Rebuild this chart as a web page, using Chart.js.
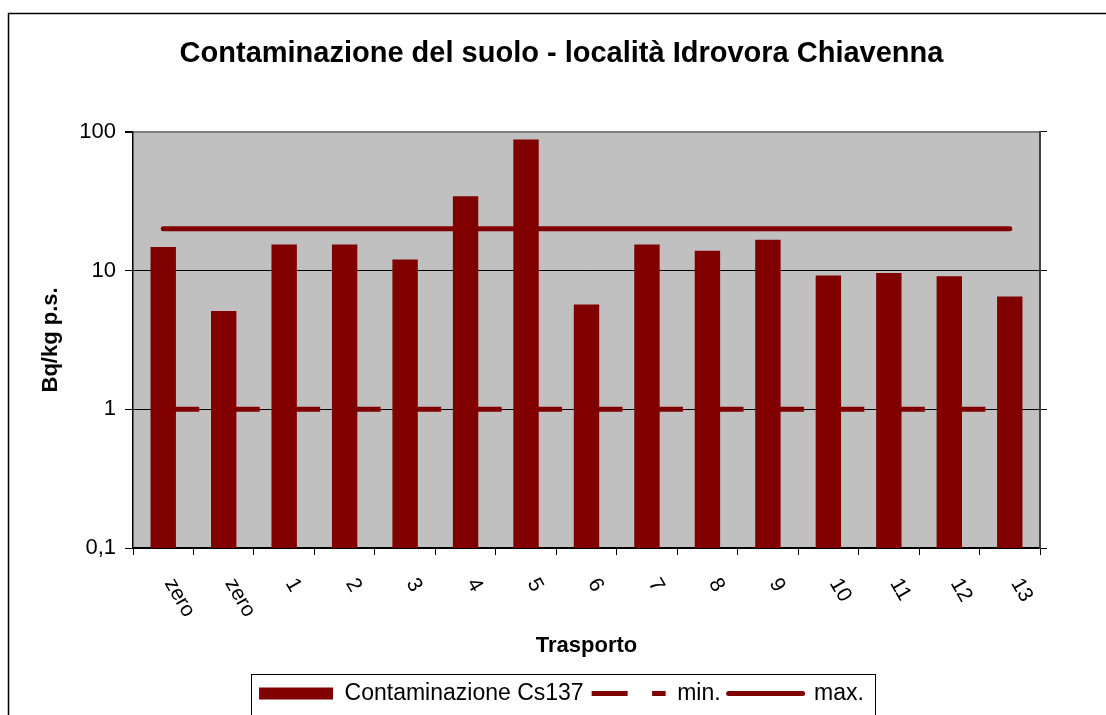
<!DOCTYPE html>
<html>
<head>
<meta charset="utf-8">
<script src="https://cdn.jsdelivr.net/npm/chart.js@4"></script>
<style>
  html, body { margin: 0; padding: 0; background: #fff; }
  #wrap { width: 1106px; height: 715px; position: relative; }
</style>
</head>
<body>
<div id="wrap"><canvas id="chart"></canvas></div>
<script>
// values (Bq/kg p.s., log scale)
const categories = ["zero", "zero", "1", "2", "3", "4", "5", "6", "7", "8", "9", "10", "11", "12", "13"];
const cs137 = [14.8, 5.1, 15.4, 15.4, 12.0, 34.3, 88.0, 5.7, 15.4, 13.9, 16.7, 9.2, 9.6, 9.1, 6.5];
const minValues = [1, 1, 1, 1, 1, 1, 1, 1, 1, 1, 1, 1, 1, 1, 1];
const maxValues = [20, 20, 20, 20, 20, 20, 20, 20, 20, 20, 20, 20, 20, 20, 20];
const yTicks = [0.1, 1, 10, 100];
const yTickLabels = ["0,1", "1", "10", "100"];

const darkRed = "#800000";
const minDash = [36, 24.47];

Chart.defaults.font.family = '"Liberation Sans", Arial, sans-serif';
Chart.defaults.color = "#000";

const frame = {
  id: "frame",
  beforeDraw: (chart) => {
    const { ctx, chartArea: a } = chart;
    ctx.save();
    ctx.fillStyle = "#c0c0c0";
    ctx.fillRect(a.left, a.top, a.right - a.left, a.bottom - a.top);
    // outer chart border
    ctx.strokeStyle = "#000";
    ctx.lineWidth = 1.5;
    ctx.beginPath();
    ctx.moveTo(8.5, 720);
    ctx.lineTo(8.5, 13.5);
    ctx.lineTo(1110, 13.5);
    ctx.stroke();
    ctx.restore();
  },
  afterDraw: (chart) => {
    const { ctx } = chart;
    const xs = chart.scales.x;
    ctx.save();
    // rotated category labels
    ctx.font = '21px "Liberation Sans", Arial, sans-serif';
    ctx.fillStyle = "#000";
    ctx.textAlign = "left";
    ctx.textBaseline = "middle";
    categories.forEach((c, i) => {
      ctx.save();
      ctx.translate(xs.getPixelForValue(i) + 6, xs.top + 32);
      ctx.rotate(Math.PI / 3);
      ctx.fillText(c, 0, 0);
      ctx.restore();
    });
    // legend frame
    const hb = chart.legend.legendHitBoxes;
    if (hb && hb.length) {
      const last = hb[hb.length - 1];
      const l = hb[0].left - 8;
      const r = last.left + last.width + 11;
      const t = chart.legend.top;
      ctx.strokeStyle = "#000";
      ctx.lineWidth = 1;
      ctx.strokeRect(Math.round(l) + 0.5, Math.round(t) + 0.5, Math.round(r - l), 60);
    }
    ctx.restore();
  }
};

new Chart(document.getElementById("chart"), {
  type: "bar",
  data: {
    labels: categories,
    datasets: [
      {
        type: "bar",
        label: "Contaminazione Cs137",
        data: cs137,
        backgroundColor: darkRed,
        borderWidth: 0,
        barPercentage: 0.42,
        categoryPercentage: 1,
        order: 2
      },
      {
        type: "line",
        label: "min.",
        data: minValues,
        borderColor: darkRed,
        borderWidth: 5,
        borderDash: minDash,
        pointRadius: 0,
        fill: false,
        order: 1
      },
      {
        type: "line",
        label: "max.",
        data: maxValues,
        borderColor: darkRed,
        borderWidth: 5,
        borderCapStyle: "round",
        pointRadius: 0,
        fill: false,
        order: 1
      }
    ]
  },
  options: {
    responsive: true,
    maintainAspectRatio: false,
    animation: false,
    layout: { padding: { left: 17, right: 0, top: 0, bottom: 0 } },
    plugins: {
      title: {
        display: true,
        text: "Contaminazione del suolo - località Idrovora Chiavenna",
        font: { size: 29, weight: "bold" },
        color: "#000",
        padding: { top: 37, bottom: 60 }
      },
      legend: {
        position: "bottom",
        labels: {
          usePointStyle: true,
          pointStyleWidth: 74,
          boxHeight: 12,
          padding: 8,
          font: { size: 23 },
          color: "#000",
          generateLabels: () => [
            { text: "Contaminazione Cs137", fillStyle: darkRed, strokeStyle: darkRed, lineWidth: 0, pointStyle: "rect", datasetIndex: 0 },
            { text: "min.", fillStyle: darkRed, strokeStyle: darkRed, lineWidth: 5, lineDash: minDash, pointStyle: "line", datasetIndex: 1 },
            { text: "max.", fillStyle: darkRed, strokeStyle: darkRed, lineWidth: 5, lineCap: "round", pointStyle: "line", datasetIndex: 2 }
          ]
        }
      },
      tooltip: { enabled: false }
    },
    scales: {
      x: {
        type: "category",
        offset: true,
        afterFit: (s) => { s.height = 126; },
        grid: { offset: true, drawOnChartArea: false, drawTicks: true, tickLength: 7, color: "#000", tickColor: "#000" },
        border: { color: "#000", width: 1.5 },
        ticks: { display: false },
        title: {
          display: true,
          text: "Trasporto",
          font: { size: 22, weight: "bold" },
          color: "#000",
          padding: { top: 0, bottom: 15 }
        }
      },
      y: {
        type: "logarithmic",
        position: "left",
        min: 0.1,
        max: 100,
        afterBuildTicks: (s) => { s.ticks = yTicks.map((v) => ({ value: v })); },
        afterFit: (s) => { s.width = 116; },
        ticks: {
          callback: (v, i) => yTickLabels[i],
          font: { size: 22 },
          color: "#000",
          padding: 9
        },
        grid: {
          color: (c) => (c.tick && c.tick.value === 100 ? "#808080" : "#000"),
          lineWidth: (c) => (c.tick && c.tick.value === 100 ? 2 : 1),
          tickColor: "#000",
          tickLength: 8
        },
        border: { color: "#000", width: 1.5 },
        title: {
          display: true,
          text: "Bq/kg p.s.",
          font: { size: 22, weight: "bold" },
          color: "#000",
          padding: { top: 21, bottom: 0 }
        }
      },
      y2: {
        type: "logarithmic",
        position: "right",
        min: 0.1,
        max: 100,
        afterBuildTicks: (s) => { s.ticks = yTicks.map((v) => ({ value: v })); },
        afterFit: (s) => { s.width = 66; },
        ticks: { display: false },
        grid: { drawOnChartArea: false, tickLength: 7, color: "#000", tickColor: "#000" },
        border: { color: "#404040", width: 2 }
      }
    }
  },
  plugins: [frame]
});
</script>
</body>
</html>
